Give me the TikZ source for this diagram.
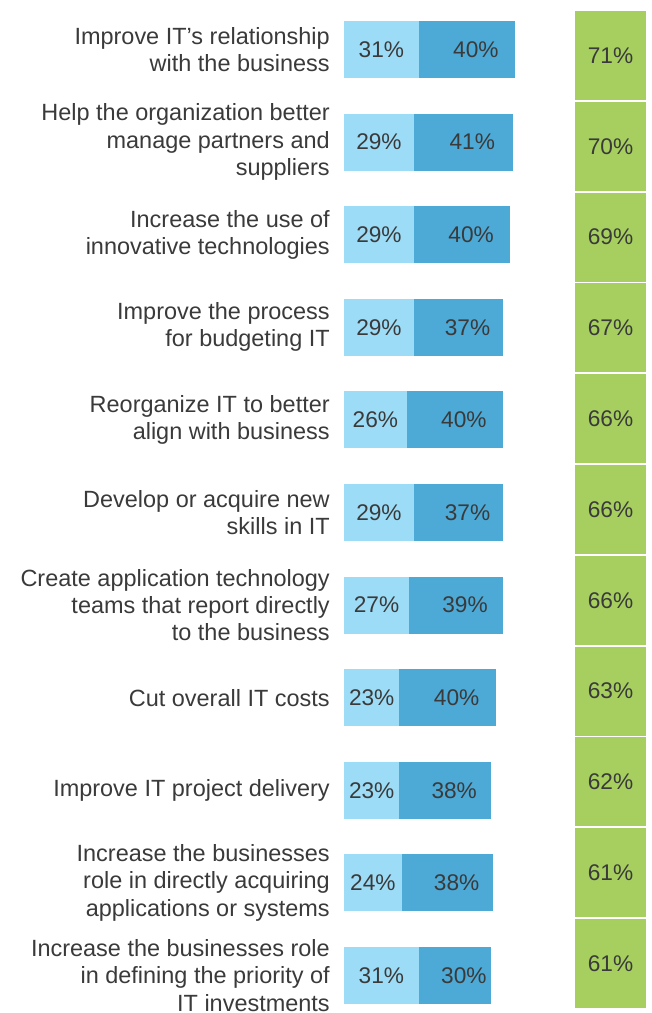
\documentclass[tikz,border=0pt]{standalone}
\usepackage{fontspec}
\setmainfont{Liberation Sans}
\definecolor{lightbar}{HTML}{9DDCF7}
\definecolor{darkbar}{HTML}{4DA9D6}
\definecolor{greencell}{HTML}{A6CF5F}
\definecolor{txtgray}{HTML}{3A3A3A}
\begin{document}
\begin{tikzpicture}[x=0.75pt,y=-0.75pt,text=txtgray,
  rowlabel/.style={anchor=east,align=right,inner sep=0pt,
    font=\fontsize{17.6}{20.4}\selectfont},
  pct/.style={inner sep=0pt,font=\fontsize{17}{20}\selectfont}]
\useasboundingbox (0,0) rectangle (651,1013);
\def\pc{2.41}
% one row per answer: label / first part / second part / total
\foreach [count=\i from 0] \txt/\a/\b/\t in {
  Improve IT’s relationship\\with the business/31/40/71,
  Help the organization better\\manage partners and\\suppliers/29/41/70,
  Increase the use of\\innovative technologies/29/40/69,
  Improve the process\\for budgeting IT/29/37/67,
  Reorganize IT to better\\align with business/26/40/66,
  Develop or acquire new\\skills in IT/29/37/66,
  Create application technology\\teams that report directly\\to the business/27/39/66,
  Cut overall IT costs/23/40/63,
  Improve IT project delivery/23/38/62,
  Increase the businesses\\role in directly acquiring\\applications or systems/24/38/61,
  Increase the businesses role\\in defining the priority of\\IT investments/31/30/61}{
  \pgfmathsetmacro\ytop{21+92.6*\i}
  \pgfmathsetmacro\gtop{11+90.8*\i}
  \pgfmathsetmacro\xa{344+\pc*\a}
  \pgfmathsetmacro\xb{\xa+\pc*\b}
  \fill[lightbar] (344,\ytop) rectangle (\xa,\ytop+57);
  \fill[darkbar] (\xa,\ytop) rectangle (\xb,\ytop+57);
  \fill[greencell] (575,\gtop) rectangle (646,\gtop+89);
  \node[rowlabel] (lab\i) at (330,\ytop+28.5) {\txt};
  \node[pct] (lo\i) at ({(344+\xa)/2},\ytop+28.5) {\a\%};
  \node[pct] (hi\i) at ({(\xa+\xb)/2+9},\ytop+28.5) {\b\%};
  \node[pct] (tot\i) at (610.5,\gtop+44.5) {\t\%};
}
\end{tikzpicture}
\end{document}
